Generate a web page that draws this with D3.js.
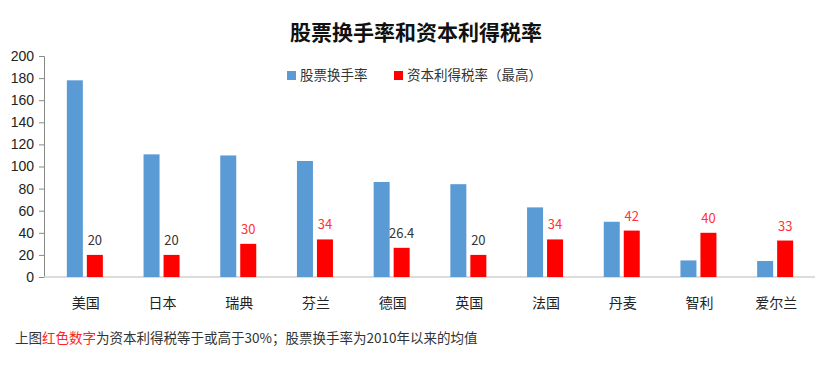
<!DOCTYPE html>
<html>
<head>
<meta charset="utf-8">
<script src="https://cdn.jsdelivr.net/npm/d3@7"></script>
<style>
  body { margin: 0; background: #fff; }
  text { font-family: "Noto Sans CJK SC", "Noto Sans", sans-serif; }
</style>
</head>
<body>
<div id="chart"></div>
<script>
const countries = ['美国', '日本', '瑞典', '芬兰', '德国', '英国', '法国', '丹麦', '智利', '爱尔兰'];
const turnover = [178, 111, 110, 105, 86, 84, 63, 50, 15, 14.5];
const capitalTax = [20, 20, 30, 34, 26.4, 20, 34, 42, 40, 33];
const yTicks = [0, 20, 40, 60, 80, 100, 120, 140, 160, 180, 200];
const seriesNames = ['股票换手率', '资本利得税率（最高）'];

const width = 832;
const height = 366;
const margin = { top: 56, bottom: 89, left: 44, right: 17 };

const svg = d3.select('#chart')
  .append('svg')
  .attr('width', width)
  .attr('height', height);

const x = d3.scaleBand()
  .domain(countries)
  .range([margin.left + 3.5, width - margin.right - 0.5])
  .paddingInner(0)
  .paddingOuter(0);

const y = d3.scaleLinear()
  .domain([0, 200])
  .range([height - margin.bottom, margin.top]);

// title
svg.append('text')
  .attr('x', 416)
  .attr('y', 40)
  .attr('text-anchor', 'middle')
  .attr('font-size', 21)
  .attr('font-weight', 'bold')
  .attr('fill', '#111')
  .text('股票换手率和资本利得税率');

// y axis
const yAxis = svg.append('g')
  .attr('transform', `translate(${margin.left},0)`)
  .call(d3.axisLeft(y).tickValues(yTicks).tickSizeOuter(0).tickSize(5).tickPadding(5));
yAxis.select('.domain').attr('stroke', '#888');
yAxis.selectAll('.tick line').attr('stroke', '#888');
yAxis.selectAll('.tick text')
  .attr('font-size', 14)
  .attr('fill', '#222')
  .style('font-family', '"Liberation Sans", Arial, sans-serif');

// x axis
const xAxis = svg.append('g')
  .attr('transform', `translate(0,${y(0)})`);
xAxis.append('line')
  .attr('x1', margin.left)
  .attr('x2', width - margin.right)
  .attr('stroke', '#d0d0d0')
  .attr('stroke-width', 1.5);
xAxis.call(d3.axisBottom(x).tickSize(0).tickPadding(21));
xAxis.select('.domain').remove();
xAxis.selectAll('.tick text')
  .attr('font-size', 14)
  .attr('fill', '#222');

const barW = 16;
const gap = 4;
const cx = i => x(countries[i]) + x.bandwidth() / 2 - 1;

// turnover bars
svg.append('g')
  .selectAll('rect')
  .data(turnover)
  .join('rect')
  .attr('x', (d, i) => cx(i) - barW - gap / 2)
  .attr('y', d => y(d))
  .attr('width', barW)
  .attr('height', d => y(0) - y(d))
  .attr('fill', '#5b9bd5');

// tax bars
svg.append('g')
  .selectAll('rect')
  .data(capitalTax)
  .join('rect')
  .attr('x', (d, i) => cx(i) + gap / 2)
  .attr('y', d => y(d))
  .attr('width', barW)
  .attr('height', d => y(0) - y(d))
  .attr('fill', '#ff0000');

// tax labels
svg.append('g')
  .selectAll('text')
  .data(capitalTax)
  .join('text')
  .attr('x', (d, i) => cx(i) + gap / 2 + barW / 2)
  .attr('y', d => y(d) - 10)
  .attr('text-anchor', 'middle')
  .attr('font-size', 13)
  .attr('fill', d => d >= 30 ? '#ff3333' : '#333')
  .text(d => d);

// legend
const legend = svg.append('g');
const legendX = [287, 394];
const legendColors = ['#5b9bd5', '#ff0000'];
seriesNames.forEach((name, i) => {
  legend.append('rect')
    .attr('x', legendX[i])
    .attr('y', 71)
    .attr('width', 9)
    .attr('height', 9)
    .attr('fill', legendColors[i]);
  legend.append('text')
    .attr('x', legendX[i] + 13)
    .attr('y', 80)
    .attr('font-size', 13.5)
    .attr('fill', '#333')
    .text(name);
});

// footnote
const note = svg.append('text')
  .attr('x', 15)
  .attr('y', 343)
  .attr('font-size', 13.5)
  .attr('fill', '#333');
note.append('tspan').text('上图');
note.append('tspan').attr('fill', '#ff2222').text('红色数字');
note.append('tspan').text('为资本利得税等于或高于30%；股票换手率为2010年以来的均值');
</script>
</body>
</html>
